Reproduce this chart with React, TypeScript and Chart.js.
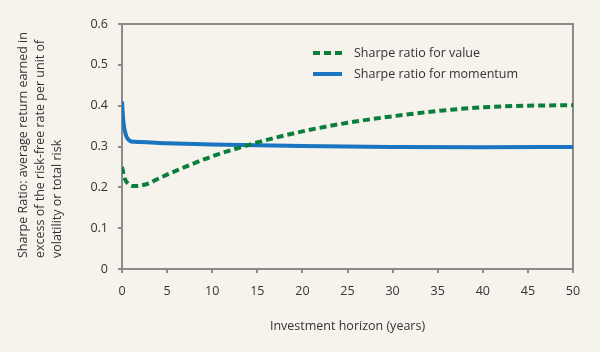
import React, { useEffect, useRef } from "react";
import { Chart, registerables } from "chart.js";

Chart.register(...registerables);

const valueYears = [0, 0.3, 0.7, 1.3, 2, 3, 4, 5, 7, 10, 13, 15, 20, 25, 30, 35, 40, 45, 50];
const valueSharpe = [0.25, 0.222, 0.208, 0.203, 0.204, 0.21, 0.221, 0.231, 0.25, 0.276, 0.297, 0.31, 0.337, 0.358, 0.374, 0.387, 0.396, 0.4, 0.401];

const momentumYears = [0, 0.1, 0.2, 0.35, 0.5, 0.75, 1, 2, 5, 10, 20, 30, 40, 50];
const momentumSharpe = [0.41, 0.375, 0.352, 0.335, 0.324, 0.316, 0.312, 0.311, 0.308, 0.305, 0.301, 0.299, 0.298, 0.299];

const xTicks = [0, 5, 10, 15, 20, 25, 30, 35, 40, 45, 50];
const yTicks = [0, 0.1, 0.2, 0.3, 0.4, 0.5, 0.6];

const seriesLabels = ["Sharpe ratio for value", "Sharpe ratio for momentum"];
const xTitle = "Investment horizon (years)";
const yTitleLines = [
  "Sharpe Ratio: average return earned in",
  "excess of the risk-free rate per unit of",
  "volatility or total risk",
];

const BG = "#f5f3ec";
const AXIS = "#8a8a8a";
const TEXT = "#333333";
const GREEN = "#0a7f3b";
const BLUE = "#1b74bf";
const FONT = "'Open Sans', 'Noto Sans', sans-serif";
const FS = 12.5;

export default function App() {
  const ref = useRef<HTMLCanvasElement | null>(null);

  useEffect(() => {
    const canvas = ref.current;
    if (!canvas) return;

    const bgPlugin = {
      id: "bg",
      beforeDraw(chart: any) {
        const { ctx } = chart;
        ctx.save();
        ctx.fillStyle = BG;
        ctx.fillRect(0, 0, chart.width, chart.height);
        ctx.restore();
      },
      beforeDatasetsDraw(chart: any) {
        const { ctx, chartArea: a } = chart;
        ctx.save();
        ctx.strokeStyle = AXIS;
        ctx.lineWidth = 2;
        ctx.beginPath();
        ctx.moveTo(a.left, a.top);
        ctx.lineTo(a.right, a.top);
        ctx.lineTo(a.right, a.bottom);
        ctx.stroke();
        ctx.restore();
      },
      afterDraw(chart: any) {
        const { ctx } = chart;
        ctx.save();
        // y-axis title
        ctx.fillStyle = TEXT;
        ctx.font = `${FS}px ${FONT}`;
        ctx.textAlign = "left";
        ctx.textBaseline = "middle";
        yTitleLines.forEach((line, i) => {
          ctx.save();
          ctx.translate(23 + i * 17, 258);
          ctx.rotate(-Math.PI / 2);
          ctx.fillText(line, 0, 0);
          ctx.restore();
        });
        // legend
        const lx = 313;
        const items = [
          { color: GREEN, dash: [7, 4], y: 53 },
          { color: BLUE, dash: [], y: 74 },
        ];
        items.forEach((it, i) => {
          ctx.strokeStyle = it.color;
          ctx.lineWidth = 4;
          ctx.setLineDash(it.dash);
          ctx.beginPath();
          ctx.moveTo(lx, it.y);
          ctx.lineTo(lx + 29, it.y);
          ctx.stroke();
          ctx.setLineDash([]);
          ctx.fillStyle = TEXT;
          ctx.font = `${FS}px ${FONT}`;
          ctx.textAlign = "left";
          ctx.textBaseline = "middle";
          ctx.fillText(seriesLabels[i], 354, it.y);
        });
        ctx.restore();
      },
    };

    const chart = new Chart(canvas, {
      type: "line",
      data: {
        datasets: [
          {
            label: seriesLabels[0],
            data: valueYears.map((x, i) => ({ x, y: valueSharpe[i] })),
            borderColor: GREEN,
            borderWidth: 4,
            borderDash: [7, 4],
            pointRadius: 0,
            cubicInterpolationMode: "monotone",
            fill: false,
          },
          {
            label: seriesLabels[1],
            data: momentumYears.map((x, i) => ({ x, y: momentumSharpe[i] })),
            borderColor: BLUE,
            borderWidth: 4,
            pointRadius: 0,
            cubicInterpolationMode: "monotone",
            fill: false,
          },
        ],
      },
      options: {
        animation: false,
        responsive: false,
        maintainAspectRatio: false,
        layout: { padding: { left: 0, right: 27, top: 24, bottom: 0 } },
        plugins: {
          legend: { display: false },
          tooltip: { enabled: false },
        },
        scales: {
          x: {
            type: "linear",
            min: 0,
            max: 50,
            afterBuildTicks(scale: any) {
              scale.ticks = xTicks.map((v) => ({ value: v }));
            },
            afterFit(scale: any) {
              scale.height = 83;
            },
            grid: {
              drawOnChartArea: false,
              drawTicks: true,
              tickLength: 4,
              color: AXIS,
              lineWidth: 2,
            },
            border: { display: true, color: AXIS, width: 2 },
            ticks: {
              color: TEXT,
              font: { family: FONT, size: FS },
              padding: 11,
              maxRotation: 0,
              autoSkip: false,
            },
            title: {
              display: true,
              text: xTitle,
              color: TEXT,
              font: { family: FONT, size: FS },
              padding: { top: 0, bottom: 18 },
            },
          },
          y: {
            type: "linear",
            min: 0,
            max: 0.6,
            afterBuildTicks(scale: any) {
              scale.ticks = yTicks.map((v) => ({ value: v }));
            },
            afterFit(scale: any) {
              scale.width = 122;
            },
            grid: {
              drawOnChartArea: false,
              drawTicks: true,
              tickLength: 4,
              color: AXIS,
              lineWidth: 2,
            },
            border: { display: true, color: AXIS, width: 2 },
            ticks: {
              color: TEXT,
              font: { family: FONT, size: FS },
              padding: 10,
              autoSkip: false,
              callback: (v: any) => (v === 0 ? "0" : Number(v).toFixed(1)),
            },
          },
        },
      },
      plugins: [bgPlugin],
    } as any);

    return () => chart.destroy();
  }, []);

  return (
    <div style={{ position: "absolute", left: 0, top: 0, width: 600, height: 352 }}>
      <canvas ref={ref} width={600} height={352} style={{ width: 600, height: 352, display: "block" }} />
    </div>
  );
}
